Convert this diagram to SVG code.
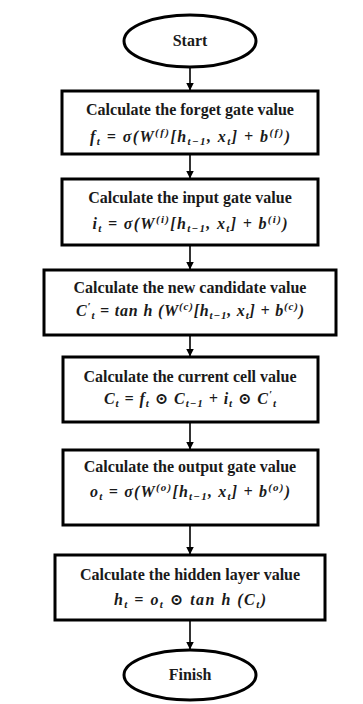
<svg xmlns="http://www.w3.org/2000/svg" width="363" height="704" viewBox="0 0 363 704">
<defs>
<marker id="ah" markerWidth="8" markerHeight="8" refX="7.5" refY="4" orient="auto" markerUnits="userSpaceOnUse">
<path d="M0,0 L8,4 L0,8 Z" fill="#000"/>
</marker>
<style>
.box{fill:#fff;stroke:#000;stroke-width:3}
.ell{fill:#fff;stroke:#000;stroke-width:3}
.t{font-family:"Liberation Serif","DejaVu Serif",serif;font-weight:bold;font-size:16px;text-anchor:middle;fill:#1a1a1a}
.f{font-family:"Liberation Serif","DejaVu Serif",serif;font-weight:bold;font-style:italic;font-size:16px;text-anchor:middle;fill:#1a1a1a}
.conn{stroke:#000;stroke-width:1.6;fill:none;marker-end:url(#ah)}
</style>
</defs>
<g id="connectors">
<line class="conn" x1="190" y1="67" x2="190" y2="90"/>
<line class="conn" x1="190" y1="154" x2="190" y2="178"/>
<line class="conn" x1="190" y1="245" x2="190" y2="269"/>
<line class="conn" x1="190" y1="335" x2="190" y2="356"/>
<line class="conn" x1="190" y1="422" x2="190" y2="449"/>
<line class="conn" x1="190" y1="525" x2="190" y2="554"/>
<line class="conn" x1="190" y1="620" x2="190" y2="649"/>
</g>
<g id="start">
<ellipse class="ell" cx="190" cy="41" rx="66" ry="26"/>
<text class="t" x="190" y="46" font-size="15">Start</text>
</g>
<g id="forget">
<rect class="box" x="62" y="91" width="256" height="63"/>
<text class="t" x="190" y="115">Calculate the forget gate value</text>
<text class="f" x="190" y="142" textLength="200" lengthAdjust="spacing">f<tspan font-size="11" dy="3">t</tspan><tspan dy="-3"> = σ(W</tspan><tspan font-size="11" dy="-6">(f)</tspan><tspan dy="6">[h</tspan><tspan font-size="11" dy="3">t−1</tspan><tspan dy="-3">, x</tspan><tspan font-size="11" dy="3">t</tspan><tspan dy="-3">] + b</tspan><tspan font-size="11" dy="-6">(f)</tspan><tspan dy="6">)</tspan></text>
</g>
<g id="input">
<rect class="box" x="62" y="179" width="256" height="66"/>
<text class="t" x="190" y="203">Calculate the input gate value</text>
<text class="f" x="190" y="229" textLength="195" lengthAdjust="spacing">i<tspan font-size="11" dy="3">t</tspan><tspan dy="-3"> = σ(W</tspan><tspan font-size="11" dy="-6">(i)</tspan><tspan dy="6">[h</tspan><tspan font-size="11" dy="3">t−1</tspan><tspan dy="-3">, x</tspan><tspan font-size="11" dy="3">t</tspan><tspan dy="-3">] + b</tspan><tspan font-size="11" dy="-6">(i)</tspan><tspan dy="6">)</tspan></text>
</g>
<g id="candidate">
<rect class="box" x="44" y="270" width="292" height="65"/>
<text class="t" x="190" y="293">Calculate the new candidate value</text>
<text class="f" x="190" y="316" textLength="228" lengthAdjust="spacing">C<tspan font-size="11" dy="-6">′</tspan><tspan font-size="11" dy="9">t</tspan><tspan dy="-3"> = tan h (W</tspan><tspan font-size="11" dy="-6">(c)</tspan><tspan dy="6">[h</tspan><tspan font-size="11" dy="3">t−1</tspan><tspan dy="-3">, x</tspan><tspan font-size="11" dy="3">t</tspan><tspan dy="-3">] + b</tspan><tspan font-size="11" dy="-6">(c)</tspan><tspan dy="6">)</tspan></text>
</g>
<g id="cell">
<rect class="box" x="63" y="357" width="255" height="65"/>
<text class="t" x="190" y="382">Calculate the current cell value</text>
<text class="f" x="190" y="404" textLength="172" lengthAdjust="spacing">C<tspan font-size="11" dy="3">t</tspan><tspan dy="-3"> = f</tspan><tspan font-size="11" dy="3">t</tspan><tspan dy="-3"> ⊙ C</tspan><tspan font-size="11" dy="3">t−1</tspan><tspan dy="-3"> + i</tspan><tspan font-size="11" dy="3">t</tspan><tspan dy="-3"> ⊙ C</tspan><tspan font-size="11" dy="-6">′</tspan><tspan font-size="11" dy="9">t</tspan></text>
</g>
<g id="output">
<rect class="box" x="63" y="450" width="255" height="75"/>
<text class="t" x="190" y="472">Calculate the output gate value</text>
<text class="f" x="190" y="497" textLength="200" lengthAdjust="spacing">o<tspan font-size="11" dy="3">t</tspan><tspan dy="-3"> = σ(W</tspan><tspan font-size="11" dy="-6">(o)</tspan><tspan dy="6">[h</tspan><tspan font-size="11" dy="3">t−1</tspan><tspan dy="-3">, x</tspan><tspan font-size="11" dy="3">t</tspan><tspan dy="-3">] + b</tspan><tspan font-size="11" dy="-6">(o)</tspan><tspan dy="6">)</tspan></text>
</g>
<g id="hidden">
<rect class="box" x="55" y="555" width="270" height="65"/>
<text class="t" x="190" y="580">Calculate the hidden layer value</text>
<text class="f" x="190" y="605" textLength="152" lengthAdjust="spacing">h<tspan font-size="11" dy="3">t</tspan><tspan dy="-3"> = o</tspan><tspan font-size="11" dy="3">t</tspan><tspan dy="-3"> ⊙ tan h  (C</tspan><tspan font-size="11" dy="3">t</tspan><tspan dy="-3">)</tspan></text>
</g>
<g id="finish">
<ellipse class="ell" cx="190" cy="675" rx="66" ry="25"/>
<text class="t" x="190" y="680" font-size="15">Finish</text>
</g>
</svg>
